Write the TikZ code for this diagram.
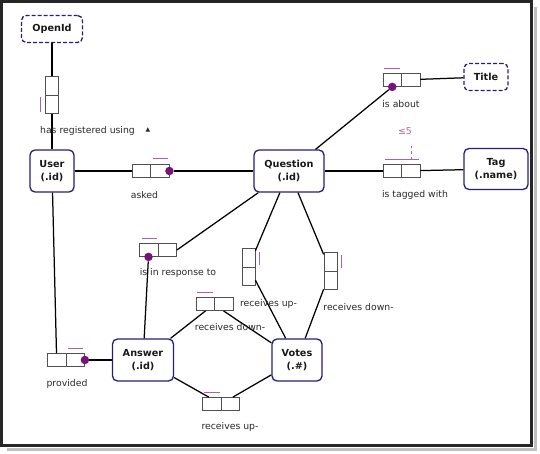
\documentclass[tikz,border=0pt]{standalone}
\usepackage{fontspec}
\setmainfont{DejaVu Sans}
\definecolor{entline}{RGB}{38,28,128}
\definecolor{roleline}{RGB}{80,80,80}
\definecolor{dotcol}{RGB}{118,20,122}
\definecolor{barcol}{RGB}{176,96,166}
\definecolor{labcol}{RGB}{40,40,40}
\newcommand{\entfont}{\fontsize{9.7}{13.5}\selectfont\bfseries}
\newcommand{\labfont}{\fontsize{9.3}{11}\selectfont}
\tikzset{
  hfact/.style={draw=roleline, line width=.8pt, minimum width=37, minimum height=13, inner sep=0pt,
    path picture={\draw[roleline, line width=.8pt] (path picture bounding box.north) -- (path picture bounding box.south);}},
  vfact/.style={draw=roleline, line width=.8pt, minimum width=13, minimum height=37, inner sep=0pt,
    path picture={\draw[roleline, line width=.8pt] (path picture bounding box.west) -- (path picture bounding box.east);}},
  bar/.style={barcol, line width=.9pt},
  roledot/.style={fill=dotcol, circle, inner sep=0pt, minimum size=8.5pt}
}
\begin{document}
\begin{tikzpicture}[x=1pt,y=-1pt]
  \useasboundingbox (0,0) rectangle (540,454);
  \draw[black!25, line width=3pt] (535,7) -- (535,449) -- (7,449);
  \draw[black!85, line width=2.8pt] (1.4,1.4) rectangle (531.5,445.5);

  % object types
  \begin{scope}[every node/.style={draw=entline, line width=1.3pt, rounded corners=5pt, align=center, font=\entfont, text=black!90, inner sep=1pt}]
    \node[minimum width=61, minimum height=27, dash pattern=on 4pt off 2pt] (openid) at (52,29) {OpenId};
    \node[minimum width=44, minimum height=42] (user)   at (52,171) {User\\(.id)};
    \node[minimum width=70, minimum height=42] (q)      at (289,171) {Question\\(.id)};
    \node[minimum width=44, minimum height=27, dash pattern=on 4pt off 2pt] (title) at (486,77) {Title};
    \node[minimum width=64, minimum height=41] (tag)    at (496,169) {Tag\\(.name)};
    \node[minimum width=61, minimum height=42] (answer) at (143,360) {Answer\\(.id)};
    \node[minimum width=50, minimum height=42] (votes)  at (297,360) {Votes\\(.\#)};
  \end{scope}

  % fact types
  \node[vfact] (reg)      at (52,95)  {};
  \node[hfact] (asked)    at (150.5,171) {};
  \node[hfact] (about)    at (401.5,80) {};
  \node[hfact] (tagged)   at (401.5,171) {};
  \node[hfact] (inresp)   at (158,250) {};
  \node[vfact] (upq)      at (248.5,267) {};
  \node[vfact] (downq)    at (330.5,271) {};
  \node[hfact] (downa)    at (214.5,304) {};
  \node[hfact] (upa)      at (221,404) {};
  \node[hfact] (provided) at (66,360) {};

  \begin{scope}[every node/.style={roledot}]
    \node (askeddot) at (asked.east) {};
    \node (aboutdot) at ([xshift=-9.25pt]about.south) {};
    \node (inrespdot) at ([xshift=-9.5pt]inresp.south) {};
    \node (provdot) at (provided.east) {};
  \end{scope}

  \begin{scope}[every edge/.style={draw, line width=1.25pt}]
    \path (openid) edge (reg);
    \path (reg) edge (user);
    \path (user) edge (asked);
    \path (askeddot) edge (q);
    \path (q) edge (aboutdot);
    \path (about) edge (title);
    \path (q) edge (tagged);
    \path (tagged) edge (tag);
    \path (q) edge (inresp.east);
    \path (inrespdot) edge (answer);
    \path (q) edge (upq);
    \path (upq) edge (votes);
    \path (q) edge (downq);
    \path (downq) edge (votes);
    \path ([xshift=-9pt]downa.south) edge (answer);
    \path ([xshift=9pt]downa.south) edge (votes);
    \path (answer) edge (upa);
    \path (upa) edge (votes);
    \path (user) edge ([xshift=-9.5pt]provided.north);
    \path (provdot) edge (answer);
  \end{scope}

  % uniqueness bars
  \draw[bar] ([xshift=-4.5pt,yshift=-2pt]reg.west) -- ([xshift=-4.5pt,yshift=-17pt]reg.west);
  \draw[bar] ([xshift=2.5pt,yshift=5.5pt]asked.north) -- ([xshift=17.5pt,yshift=5.5pt]asked.north);
  \draw[bar] ([xshift=-18pt,yshift=4.5pt]about.north) -- ([xshift=-2pt,yshift=4.5pt]about.north);
  \draw[bar] ([xshift=-17pt,yshift=4.5pt]tagged.north) -- ([xshift=17pt,yshift=4.5pt]tagged.north);
  \draw[bar, dashed] ([xshift=9.5pt,yshift=4.5pt]tagged.north) -- ([xshift=9.5pt,yshift=18pt]tagged.north);
  \draw[bar] ([xshift=-16pt,yshift=5pt]inresp.north) -- ([xshift=-1pt,yshift=5pt]inresp.north);
  \draw[bar] ([xshift=4pt,yshift=15pt]upq.east) -- ([xshift=4pt,yshift=2pt]upq.east);
  \draw[bar] ([xshift=4pt,yshift=16pt]downq.east) -- ([xshift=4pt,yshift=3pt]downq.east);
  \draw[bar] ([xshift=-17.5pt,yshift=4.5pt]downa.north) -- ([xshift=-1.5pt,yshift=4.5pt]downa.north);
  \draw[bar] ([xshift=-17pt,yshift=5pt]upa.north) -- ([xshift=-1pt,yshift=5pt]upa.north);
  \draw[bar] ([xshift=2pt,yshift=4.5pt]provided.north) -- ([xshift=17pt,yshift=4.5pt]provided.north);

  % readings
  \begin{scope}[every node/.style={font=\labfont, text=labcol, inner sep=0pt}]
    \node (lreg)    at (87.5,131) {has registered using};
    \node (larrow)  at (148,130) {\fontsize{6}{6}\selectfont ▲};
    \node (lasked)  at (144.5,195) {asked};
    \node (labout)  at (401,104) {is about};
    \node (lfive)   at (405,131) {\textcolor{barcol}{≤5}};
    \node (ltagged) at (415,195) {is tagged with};
    \node (linresp) at (178,273) {is in response to};
    \node (lupq)    at (268.5,304) {receives up-};
    \node (ldownq)  at (358.5,307) {receives down-};
    \node (ldowna)  at (230,327) {receives down-};
    \node (lupa)    at (230,427) {receives up-};
    \node (lprov)   at (67,384) {provided};
  \end{scope}
\end{tikzpicture}
\end{document}
